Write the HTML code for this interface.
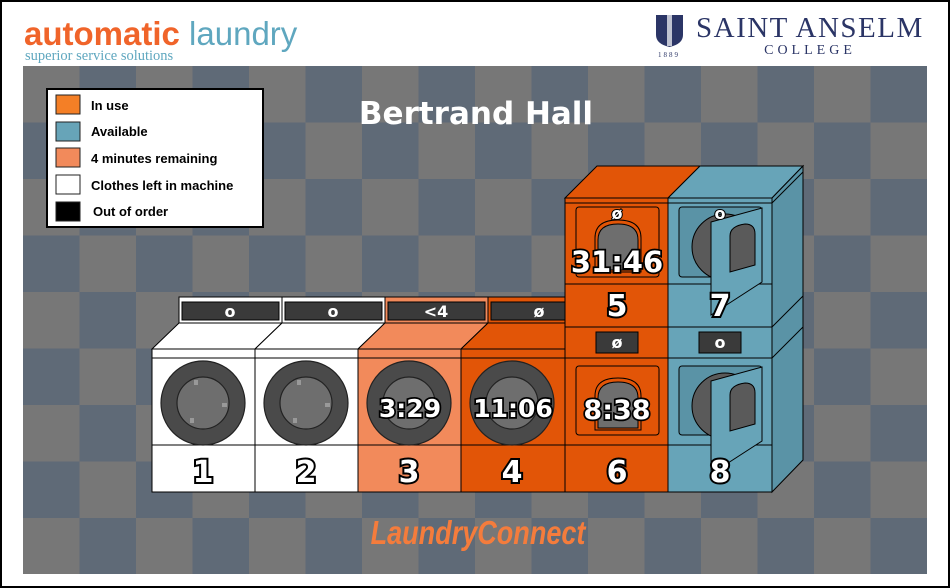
<!DOCTYPE html>
<html><head><style>
html,body{margin:0;padding:0;background:#fff;}
svg{display:block;}
.n{fill:#fff;stroke:#000;stroke-width:4;paint-order:stroke;font-family:"DejaVu Sans","Liberation Sans",sans-serif;font-weight:bold;font-size:30px;text-anchor:middle;}
.tm{fill:#fff;stroke:#000;stroke-width:3.5;paint-order:stroke;font-family:"DejaVu Sans","Liberation Sans",sans-serif;font-weight:bold;font-size:25px;text-anchor:middle;}
.d{fill:#fff;font-family:"DejaVu Sans","Liberation Sans",sans-serif;font-weight:bold;font-size:16px;text-anchor:middle;}
.lg{font-family:"Liberation Sans",sans-serif;font-weight:bold;font-size:13px;fill:#000;}
</style></head><body>
<svg width="950" height="588" viewBox="0 0 950 588" xmlns="http://www.w3.org/2000/svg">
<defs>
<pattern id="ck" x="23" y="66" width="113" height="113" patternUnits="userSpaceOnUse">
<rect width="113" height="113" fill="#5f6a77"/>
<rect width="56.5" height="56.5" fill="#777"/>
<rect x="56.5" y="56.5" width="56.5" height="56.5" fill="#777"/>
</pattern>
</defs>
<rect x="1" y="1" width="948" height="586" fill="#fff" stroke="#000" stroke-width="2"/>
<rect x="23" y="66" width="904" height="508" fill="url(#ck)"/>

<text x="24" y="45" font-family="Liberation Sans,sans-serif" font-size="33" font-weight="bold" fill="#f0642a">automatic <tspan fill="#5fa7bf" font-weight="normal">laundry</tspan></text>
<text x="25" y="60" font-family="Liberation Serif,serif" font-size="14.5" fill="#5fa7bf">superior service solutions</text>
<path d="M656 15 H683 V35 Q683 44 669.5 47 Q656 44 656 35 Z" fill="#2b3566"/>
<rect x="667" y="15" width="5" height="31" fill="#fff" opacity="0.7"/>
<text x="669" y="57" font-family="Liberation Serif,serif" font-size="7" fill="#2b3566" text-anchor="middle" letter-spacing="2">1889</text>
<text x="696" y="37" font-family="Liberation Serif,serif" font-size="29" fill="#2b3566" letter-spacing="1.5">SAINT ANSELM</text>
<text x="810" y="54" font-family="Liberation Serif,serif" font-size="14" fill="#2b3566" text-anchor="middle" letter-spacing="4">COLLEGE</text>

<rect x="47" y="89" width="216" height="138" fill="#fff" stroke="#000" stroke-width="2"/>
<rect x="56" y="95" width="24" height="19" fill="#f47f26" stroke="#222"/>
<rect x="56" y="122" width="24" height="19" fill="#67a4b8" stroke="#222"/>
<rect x="56" y="148" width="24" height="19" fill="#f28a5b" stroke="#222"/>
<rect x="56" y="175" width="24" height="19" fill="#fff" stroke="#222"/>
<rect x="56" y="202" width="24" height="19" fill="#000" stroke="#222"/>
<text class="lg" x="91" y="110">In use</text>
<text class="lg" x="91" y="136">Available</text>
<text class="lg" x="91" y="163">4 minutes remaining</text>
<text class="lg" x="91" y="190">Clothes left in machine</text>
<text class="lg" x="93" y="216">Out of order</text>

<text x="476" y="124" font-family="DejaVu Sans,sans-serif" font-weight="bold" font-size="31" fill="#fff" text-anchor="middle">Bertrand Hall</text>

<g stroke="#000" stroke-width="1">
<polygon points="152,349 179,323 282,323 255,349" fill="#fff"/>
<rect x="179" y="297" width="103" height="26" fill="#fff"/>
<rect x="182" y="302" width="97" height="18" fill="#3a3a3a"/>
<rect x="152" y="349" width="103" height="143" fill="#fff"/>
<polygon points="255,349 282,323 385,323 358,349" fill="#fff"/>
<rect x="282" y="297" width="103" height="26" fill="#fff"/>
<rect x="285" y="302" width="97" height="18" fill="#3a3a3a"/>
<rect x="255" y="349" width="103" height="143" fill="#fff"/>
<polygon points="358,349 385,323 488,323 461,349" fill="#f28a5b"/>
<rect x="385" y="297" width="103" height="26" fill="#f28a5b"/>
<rect x="388" y="302" width="97" height="18" fill="#3a3a3a"/>
<rect x="358" y="349" width="103" height="143" fill="#f28a5b"/>
<polygon points="461,349 488,323 591,323 565,349" fill="#e25507"/>
<rect x="488" y="297" width="80" height="26" fill="#e25507"/>
<rect x="491" y="302" width="74" height="18" fill="#3a3a3a"/>
<rect x="461" y="349" width="104" height="143" fill="#e25507"/>
<line x1="152" y1="358" x2="565" y2="358"/>
<line x1="152" y1="445" x2="565" y2="445"/>
</g>
<g stroke="#222" stroke-width="1.2">
<circle cx="203" cy="403" r="42" fill="#4a4a4a"/><circle cx="203" cy="403" r="26" fill="#6e6e6e"/>
<circle cx="306" cy="403" r="42" fill="#4a4a4a"/><circle cx="306" cy="403" r="26" fill="#6e6e6e"/>
<circle cx="409" cy="403" r="42" fill="#4a4a4a"/><circle cx="409" cy="403" r="26" fill="#6e6e6e"/>
<circle cx="512" cy="403" r="42" fill="#4a4a4a"/><circle cx="512" cy="403" r="26" fill="#6e6e6e"/>
</g>
<g fill="#999">
<rect x="194" y="380" width="4" height="5"/><rect x="222" y="403" width="5" height="4"/><rect x="190" y="418" width="4" height="5"/>
<rect x="297" y="380" width="4" height="5"/><rect x="325" y="403" width="5" height="4"/><rect x="293" y="418" width="4" height="5"/>
</g>
<text class="d" x="230" y="317">o</text>
<text class="d" x="333" y="317">o</text>
<text class="d" x="436" y="317">&lt;4</text>
<text class="d" x="539" y="317">ø</text>
<text class="tm" x="410" y="417">3:29</text>
<text class="tm" x="513" y="417">11:06</text>

<g stroke="#000" stroke-width="1">
<polygon points="565,198 597,166 700,166 668,198" fill="#e25507"/>
<polygon points="668,198 700,166 803,166 772,198" fill="#67a4b8"/>
<polygon points="772,198 803,166 803,460 772,492" fill="#5a93a6"/>
<rect x="565" y="198" width="103" height="294" fill="#e25507"/>
<rect x="668" y="198" width="104" height="294" fill="#67a4b8"/>
<line x1="565" y1="203" x2="772" y2="203"/>
<line x1="565" y1="284" x2="772" y2="284"/>
<line x1="565" y1="327" x2="772" y2="327"/>
<line x1="565" y1="358" x2="772" y2="358"/>
<line x1="565" y1="445" x2="772" y2="445"/>
<line x1="772" y1="203" x2="803" y2="172"/>
<line x1="772" y1="327" x2="803" y2="296"/>
<line x1="772" y1="358" x2="803" y2="327"/>
<rect x="576" y="207" width="83" height="70" rx="3" fill="#e25507"/>
<rect x="576" y="366" width="83" height="69" rx="3" fill="#e25507"/>
<path d="M595 272 V238 Q595 220 618 220 Q641 220 641 238 V272 Z" fill="#e25507"/>
<path d="M598 270 V240 Q598 224 618 224 Q638 224 638 240 V270 Z" fill="#6e6e6e"/>
<path d="M595 430 V396 Q595 378 618 378 Q641 378 641 396 V430 Z" fill="#e25507"/>
<path d="M598 428 V398 Q598 382 618 382 Q638 382 638 398 V428 Z" fill="#6e6e6e"/>
<rect x="679" y="207" width="83" height="70" rx="3" fill="#5a93a6"/>
<rect x="679" y="366" width="83" height="69" rx="3" fill="#5a93a6"/>
<circle cx="725" cy="247" r="33" fill="#5a5a5a"/>
<circle cx="725" cy="406" r="33" fill="#5a5a5a"/>
<polygon points="711,222 762,208 762,282 711,315" fill="#67a4b8"/>
<polygon points="711,381 762,367 762,441 711,474" fill="#67a4b8"/>
<path d="M730 272 V236 Q730 226 745 224 Q755 224 755 234 V265 Z" fill="#5a5a5a"/>
<path d="M730 431 V395 Q730 385 745 383 Q755 383 755 393 V424 Z" fill="#5a5a5a"/>
<rect x="596" y="332" width="42" height="21" fill="#3a3a3a"/>
<rect x="699" y="332" width="42" height="21" fill="#3a3a3a"/>
</g>
<text class="d" x="617" y="348">ø</text>
<text class="d" x="720" y="348">o</text>
<text class="d" x="617" y="219" style="stroke:#000;stroke-width:2;paint-order:stroke">ø</text>
<text class="d" x="720" y="219" style="stroke:#000;stroke-width:2;paint-order:stroke">o</text>
<text class="tm" x="617" y="272" style="font-size:29px">31:46</text>
<text class="tm" x="617" y="419" style="font-size:27px">8:38</text>

<text class="n" x="203" y="482">1</text>
<text class="n" x="306" y="482">2</text>
<text class="n" x="409" y="482">3</text>
<text class="n" x="512" y="482">4</text>
<text class="n" x="617" y="482">6</text>
<text class="n" x="720" y="482">8</text>
<text class="n" x="617" y="316">5</text>
<text class="n" x="720" y="316">7</text>

<text x="0" y="0" transform="translate(478,544) scale(0.82,1)" font-family="Liberation Sans,sans-serif" font-weight="bold" font-style="italic" font-size="33" fill="#f47c3c" text-anchor="middle">LaundryConnect</text>
</svg>
</body></html>
